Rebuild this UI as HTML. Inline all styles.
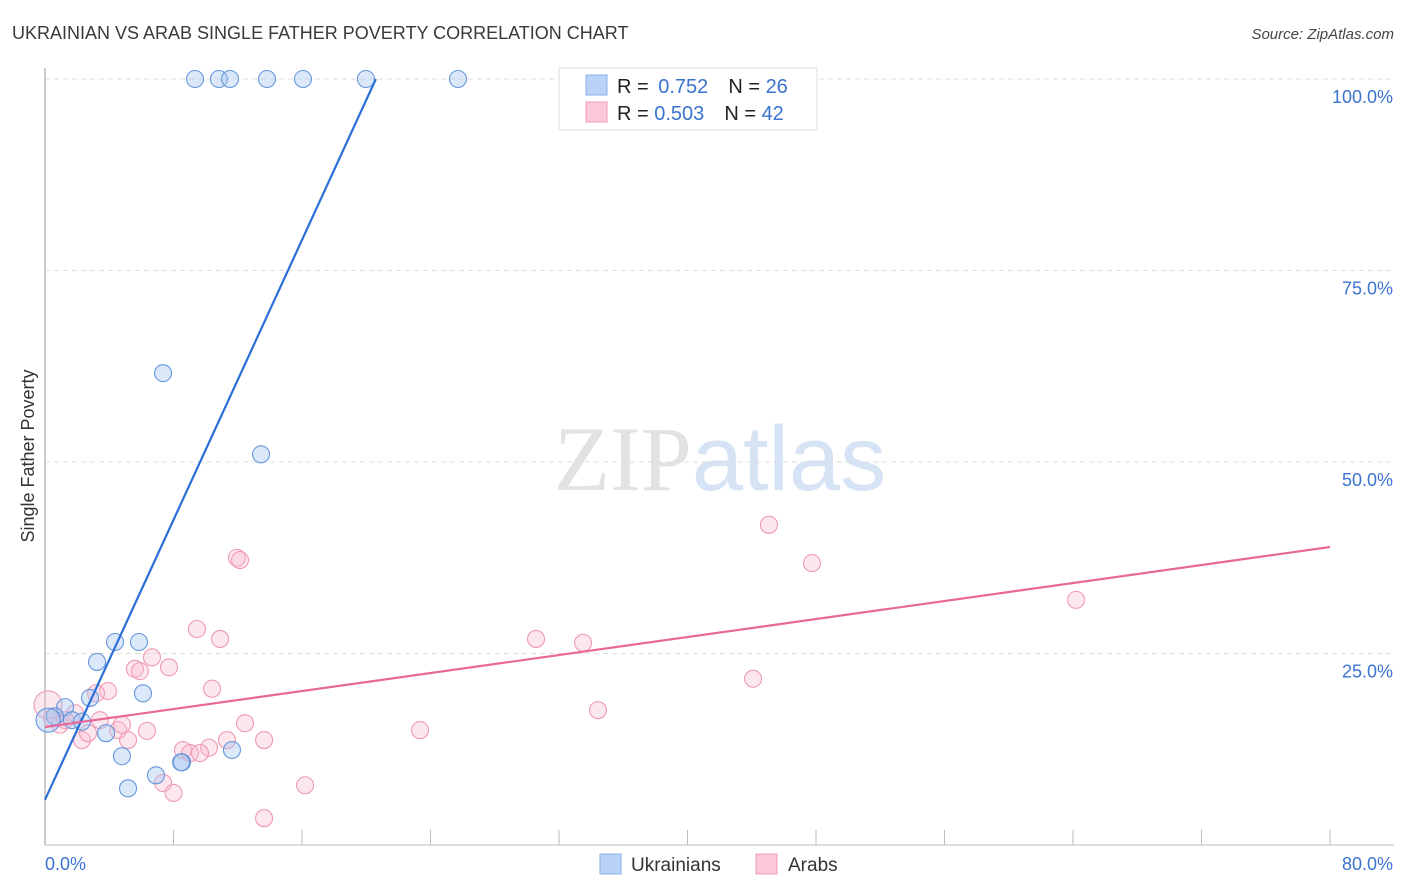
<!DOCTYPE html>
<html><head><meta charset="utf-8">
<style>
body{margin:0;background:#fff;font-family:"Liberation Sans",sans-serif;}
svg{display:block}
</style></head>
<body>
<svg id="chart" width="1406" height="892" viewBox="0 0 1406 892" xmlns="http://www.w3.org/2000/svg">
<text x="12" y="39" font-size="18" fill="#3a3a3a" font-family="Liberation Sans, sans-serif">UKRAINIAN VS ARAB SINGLE FATHER POVERTY CORRELATION CHART</text>
<text x="1394" y="39" font-size="15" fill="#444" text-anchor="end" font-style="italic">Source: ZipAtlas.com</text>
<text x="720" y="490" font-size="92" text-anchor="middle" font-family="Liberation Serif, serif"><tspan fill="#e2e2e2">ZIP</tspan><tspan fill="#d6e3f5" font-family="Liberation Sans, sans-serif">atlas</tspan></text>
<g id="grid"></g>
<line x1="45" y1="68" x2="45" y2="845" stroke="#bbb" stroke-width="1.5"/>
<line x1="45" y1="845" x2="1394" y2="845" stroke="#bbb" stroke-width="1"/>
<text transform="translate(34,456) rotate(-90)" font-size="18" fill="#333" text-anchor="middle">Single Father Poverty</text>
<text x="45" y="870" font-size="18" fill="#3b73d1">0.0%</text>
<text x="1393" y="870" font-size="18" fill="#3b73d1" text-anchor="end">80.0%</text>
<g id="points"></g>
<g id="lines"></g>
<g>
<rect x="559" y="68" width="258" height="62" fill="#fff" stroke="#ddd"/>
<rect x="586" y="75" width="21" height="20" fill="#b9d2f5" stroke="#8ab0e6"/>
<rect x="586" y="102" width="21" height="20" fill="#fbc8d8" stroke="#f09ab5"/>
<text x="617" y="93" font-size="20" fill="#222">R = <tspan fill="#3b73d1" dx="4">0.752</tspan><tspan dx="20">N = </tspan><tspan fill="#3b73d1">26</tspan></text>
<text x="617" y="120" font-size="20" fill="#222">R = <tspan fill="#3b73d1">0.503</tspan><tspan dx="20">N = </tspan><tspan fill="#3b73d1">42</tspan></text>
</g>
<g>
<rect x="600" y="854" width="21" height="20" fill="#b9d2f5" stroke="#8ab0e6"/>
<text x="631" y="871" font-size="19" fill="#333">Ukrainians</text>
<rect x="756" y="854" width="21" height="20" fill="#fbc8d8" stroke="#f09ab5"/>
<text x="788" y="871" font-size="19" fill="#333">Arabs</text>
</g>
</svg>
<script>
const yTicks=[25,50,75,100];
const yTickLabels=["25.0%","50.0%","75.0%","100.0%"];
const xTicks=[0,8,16,24,32,40,48,56,64,72,80];
const blueX=[9.34,10.83,11.52,13.82,16.06,19.98,25.71,7.35,13.45,4.36,5.85,3.24,6.10,2.80,1.25,0.62,0.19,1.68,2.30,3.80,4.79,6.91,5.17,8.53,8.47,11.64];
const blueY=[100,100,100,100,100,100,100,61.6,51.0,26.5,26.5,23.9,19.8,19.2,18.0,16.8,16.3,16.3,16.1,14.6,11.6,9.1,7.4,10.8,10.8,12.4];
const pinkX=[45.07,47.75,64.19,44.08,34.43,30.57,33.50,23.35,11.95,12.14,9.46,10.90,6.66,7.72,5.60,5.91,10.40,3.92,3.18,12.45,13.64,11.33,10.21,8.59,9.03,9.65,6.35,4.55,5.17,4.79,2.30,2.68,1.87,0.93,0.19,7.35,8.0,16.19,13.64,1.25,0.44,3.42];
const pinkY=[41.8,36.8,32.0,21.7,17.6,26.9,26.4,15.0,37.5,37.2,28.2,26.9,24.5,23.2,23.0,22.7,20.4,20.1,19.8,15.9,13.7,13.7,12.7,12.4,12.0,12.0,14.9,15.0,13.7,15.7,13.7,14.6,17.2,15.7,18.3,8.1,6.8,7.8,3.5,16.3,16.6,16.3];
const blueLine=[[0,5.9],[20.6,100]];
const pinkLine=[[0,15.4],[80,38.9]];
const NS="http://www.w3.org/2000/svg";
const sx=v=>45+v/80*1285;
const sy=v=>845-v/100*766;
function mk(tag,attrs,parent){const e=document.createElementNS(NS,tag);for(const k in attrs)e.setAttribute(k,attrs[k]);parent.appendChild(e);return e;}
const grid=document.getElementById('grid');
yTicks.forEach((t,i)=>{
 const l=mk('line',{x1:45,x2:1394,y1:sy(t),y2:sy(t),stroke:'#ddd','stroke-dasharray':'5,4'},grid);
 
 
 const tx=mk('text',{x:1393,y:sy(t)+24,'font-size':18,fill:'#3b73d1','text-anchor':'end'},grid);
 tx.textContent=yTickLabels[i];
 
 
});
xTicks.forEach(t=>{
 const l=mk('line',{x1:sx(t),x2:sx(t),y1:830,y2:845,stroke:'#bbb'},grid);
 
 
});
const pts=document.getElementById('points');
pinkX.forEach((x,i)=>{
 const c=mk('circle',{cx:sx(x),cy:sy(pinkY[i]),r:i==34?14:8.5,fill:'rgba(248,185,205,0.35)',stroke:'#ee9ab7','stroke-width':1.1},pts);
 
 
});
blueX.forEach((x,i)=>{
 const c=mk('circle',{cx:sx(x),cy:sy(blueY[i]),r:i==16?12:8.5,fill:'rgba(165,198,240,0.4)',stroke:'#6697dd','stroke-width':1.1},pts);
 
 
});
const lines=document.getElementById('lines');
const bl=mk('line',{x1:sx(blueLine[0][0]),y1:sy(blueLine[0][1]),x2:sx(blueLine[1][0]),y2:sy(blueLine[1][1]),stroke:'#2a6fd6','stroke-width':2.2},lines);


const pl=mk('line',{x1:sx(pinkLine[0][0]),y1:sy(pinkLine[0][1]),x2:sx(pinkLine[1][0]),y2:sy(pinkLine[1][1]),stroke:'#e8689a','stroke-width':2.2},lines);


</script>
</body></html>
